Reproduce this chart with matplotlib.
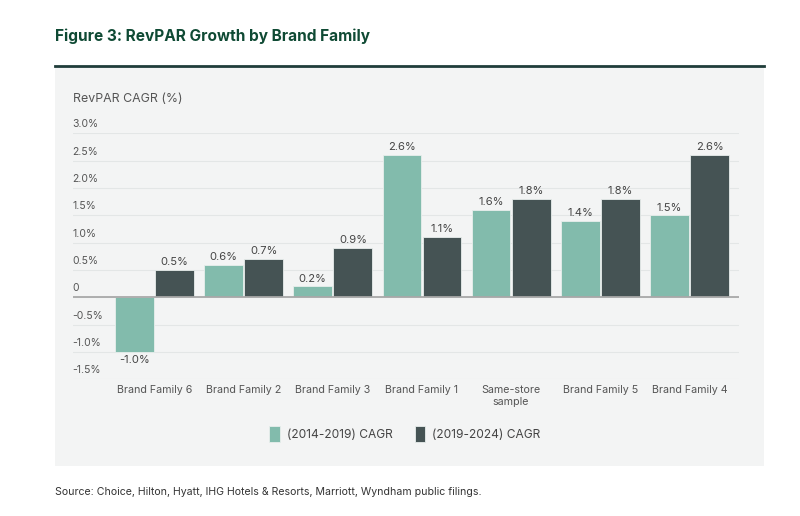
import matplotlib.pyplot as plt
import matplotlib.transforms as mtransforms
from matplotlib.patches import Rectangle
import numpy as np

plt.rcParams["font.family"] = ["Inter", "DejaVu Sans"]

categories = ["Brand Family 6", "Brand Family 2", "Brand Family 3", "Brand Family 1",
              "Same-store\nsample", "Brand Family 5", "Brand Family 4"]
cagr_2014_2019 = [-1.0, 0.6, 0.2, 2.6, 1.6, 1.4, 1.5]
cagr_2019_2024 = [0.5, 0.7, 0.9, 1.1, 1.8, 1.8, 2.6]
series_labels = ["(2014-2019) CAGR", "(2019-2024) CAGR"]
y_ticks = [3.0, 2.5, 2.0, 1.5, 1.0, 0.5, 0.0, -0.5, -1.0, -1.5]
y_tick_labels = ["3.0%", "2.5%", "2.0%", "1.5%", "1.0%", "0.5%", "0", "-0.5%", "-1.0%", "-1.5%"]

TEAL = "#82bbac"
DARK = "#455354"
PANEL = "#f3f4f4"
TITLE_GREEN = "#0f4a34"

W, H = 800, 516
fig = plt.figure(figsize=(W / 100, H / 100), dpi=100)
fig.patch.set_facecolor("white")

# grey panel and rule above it
fig.add_artist(Rectangle((55 / W, 1 - 466 / H), (764 - 55) / W, (466 - 67) / H,
                         transform=fig.transFigure, facecolor=PANEL, edgecolor="none", zorder=0))
fig.add_artist(plt.Line2D([55 / W, 764 / W], [1 - 66 / H, 1 - 66 / H], transform=fig.transFigure,
                          color="#1f3d3a", linewidth=2.0, zorder=1))

fig.text(55 / W, 1 - 36 / H, "Figure 3: RevPAR Growth by Brand Family", fontsize=11.1,
         fontweight="bold", color=TITLE_GREEN, ha="left", va="center")
fig.text(73 / W, 1 - 99 / H, "RevPAR CAGR (%)", fontsize=8.9, color="#555555",
         ha="left", va="center")
fig.text(55 / W, 1 - 492 / H, "Source: Choice, Hilton, Hyatt, IHG Hotels & Resorts, Marriott, Wyndham public filings.",
         fontsize=7.6, color="#333333", ha="left", va="center")

ax = fig.add_axes([72.7 / W, 1 - 379.3 / H, (739 - 72.7) / W, (379.3 - 133.3) / H])
ax.set_facecolor("none")
x = np.arange(len(categories))
bw = 0.435
off = 0.225
b1 = ax.bar(x - off, cagr_2014_2019, bw, color=TEAL, edgecolor="#e8eeec", linewidth=0.6,
            label=series_labels[0], zorder=3)
b2 = ax.bar(x + off, cagr_2019_2024, bw, color=DARK, edgecolor="#e8eeec", linewidth=0.6,
            label=series_labels[1], zorder=3)
for bars in (b1, b2):
    ax.bar_label(bars, labels=[f"{v:.1f}%" for v in bars.datavalues], padding=2,
                 fontsize=8, color="#444444")

ax.set_xlim(-0.917, 6.555)
ax.set_ylim(-1.5, 3.0)
ax.set_yticks(y_ticks)
ax.set_yticklabels([])
ax.tick_params(axis="y", length=0)
ax.grid(axis="y", color="#e3e6e6", linewidth=0.8, zorder=0)
ax.axhline(0, color="#a8a8a8", linewidth=1.3, zorder=4)
for s in ax.spines.values():
    s.set_visible(False)

trans = mtransforms.blended_transform_factory(ax.transAxes, ax.transData)
for v, lab in zip(y_ticks, y_tick_labels):
    ax.annotate(lab, xy=(0, v), xycoords=trans, xytext=(0, 9), textcoords="offset pixels",
                ha="left", va="center", fontsize=7.5, color="#555555")

ax.set_xticks(x)
ax.set_xticklabels(categories, fontsize=7.7, color="#555555", linespacing=1.3)
ax.tick_params(axis="x", length=0, pad=4)

fig.legend(loc="center", bbox_to_anchor=(405 / W, 1 - 434 / H), ncol=2, frameon=False,
           fontsize=8.6, handlelength=0.9, handleheight=1.6, handletextpad=0.6,
           columnspacing=1.8, labelcolor="#444444")

fig.savefig("out.png", dpi=100)
